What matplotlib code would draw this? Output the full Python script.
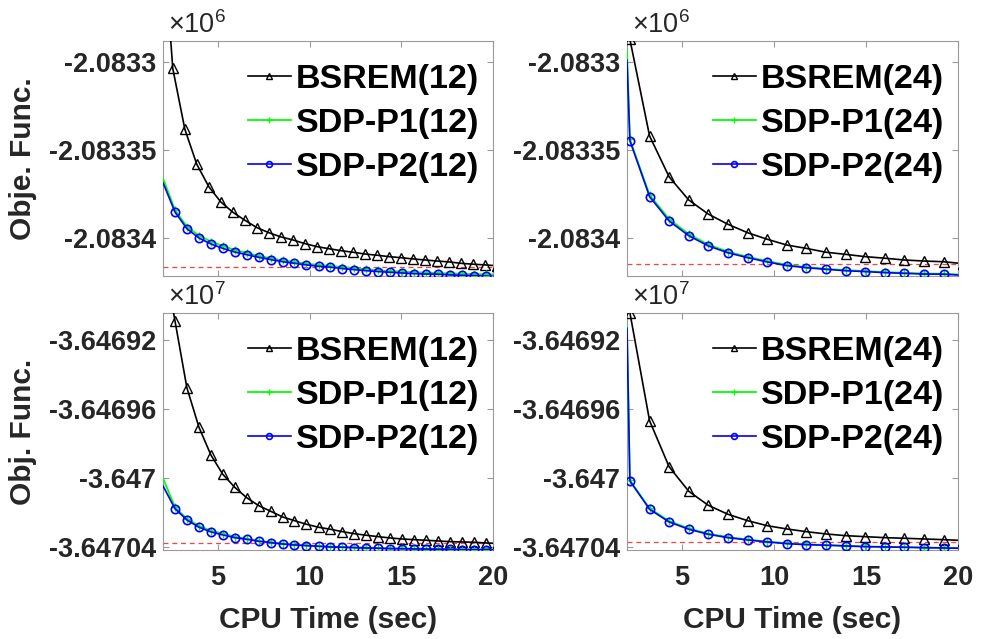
import matplotlib
matplotlib.use('Agg')
import matplotlib.pyplot as plt
from matplotlib.ticker import FixedLocator, FuncFormatter

plt.rcParams['font.family'] = ['Liberation Sans', 'DejaVu Sans']
plt.rcParams['font.weight'] = 'bold'

# ---- данные (значения целевой функции по времени CPU) ----
# верхний ряд, 12 подмножеств
t_bsrem_tl = [1.88, 2.53, 3.19, 3.84, 4.50, 5.15, 5.81, 6.46, 7.12, 7.77, 8.43, 9.08, 9.74, 10.39,
              11.05, 11.70, 12.36, 13.01, 13.67, 14.32, 14.98, 15.63, 16.29, 16.94, 17.60, 18.25,
              18.91, 19.56, 20.22]
bsrem_tl = [-2083210, -2083303.6, -2083338.2, -2083358.1, -2083370.9, -2083379.5, -2083385.4,
            -2083389.9, -2083394.1, -2083397.0, -2083399.4, -2083401.1, -2083403.2, -2083404.9,
            -2083406.1, -2083407.2, -2083408.1, -2083409.1, -2083409.8, -2083410.6, -2083411.2,
            -2083411.9, -2083412.5, -2083413.1, -2083413.6, -2083414.4, -2083414.9, -2083415.3,
            -2083415.8]
t_sdp_tl = [2.00, 2.65, 3.30, 3.96, 4.61, 5.26, 5.91, 6.56, 7.22, 7.87, 8.52, 9.17, 9.82, 10.48,
            11.13, 11.78, 12.43, 13.08, 13.74, 14.39, 15.04, 15.69, 16.34, 17.00, 17.65, 18.30,
            18.95, 19.60, 20.26]
p1_tl = [-2083366.1, -2083384.1, -2083393.5, -2083398.6, -2083402.0, -2083404.5, -2083406.8,
         -2083408.5, -2083410.1, -2083411.5, -2083412.7, -2083413.6, -2083414.6, -2083415.3,
         -2083415.9, -2083416.6, -2083417.2, -2083417.8, -2083418.4, -2083418.8, -2083419.1,
         -2083419.5, -2083419.7, -2083419.9, -2083420.2, -2083420.3, -2083420.5, -2083420.6,
         -2083420.8]
p2_tl = [-2083368.6, -2083385.2, -2083394.7, -2083400.0, -2083403.4, -2083405.9, -2083408.0,
         -2083409.5, -2083411.0, -2083412.3, -2083413.5, -2083414.4, -2083415.3, -2083416.1,
         -2083416.6, -2083417.4, -2083418.0, -2083418.6, -2083419.1, -2083419.5, -2083419.9,
         -2083420.3, -2083420.5, -2083420.6, -2083421.0, -2083421.2, -2083421.4, -2083421.6,
         -2083421.8]
ref_tl = -2083416.3

# верхний ряд, 24 подмножества
t_bsrem_tr = [2.16, 3.23, 4.29, 5.36, 6.42, 7.49, 8.56, 9.62, 10.69, 11.75, 12.82, 13.89, 14.95,
              16.02, 17.08, 18.15, 19.22, 20.28]
bsrem_tr = [-2083287.1, -2083342.0, -2083365.2, -2083378.4, -2083386.4, -2083392.2, -2083397.0,
            -2083400.7, -2083404.0, -2083405.9, -2083408.1, -2083409.3, -2083410.6, -2083411.5,
            -2083412.5, -2083413.1, -2083413.5, -2083414.6]
t_sdp_tr = [2.00, 2.16, 3.23, 4.29, 5.36, 6.42, 7.49, 8.56, 9.62, 10.69, 11.75, 12.82, 13.89,
            14.95, 16.02, 17.08, 18.15, 19.22, 20.28]
p1_tr = [-2083293.2, -2083344.0, -2083375.5, -2083389.2, -2083397.8, -2083403.7, -2083407.8,
         -2083410.7, -2083413.1, -2083415.3, -2083416.5, -2083417.5, -2083418.3, -2083418.8,
         -2083419.4, -2083419.8, -2083420.2, -2083420.3, -2083420.9]
p2_tr = [-2083298.9, -2083344.7, -2083376.5, -2083390.3, -2083398.7, -2083404.5, -2083408.4,
         -2083411.2, -2083413.6, -2083415.7, -2083416.9, -2083417.8, -2083418.6, -2083419.1,
         -2083419.7, -2083420.1, -2083420.5, -2083420.6, -2083421.2]
ref_tr = -2083414.9

# нижний ряд, 12 подмножеств
t_bl = [2.00, 2.65, 3.30, 3.96, 4.61, 5.26, 5.91, 6.56, 7.22, 7.87, 8.52, 9.17, 9.82, 10.48,
        11.13, 11.78, 12.43, 13.08, 13.74, 14.39, 15.04, 15.69, 16.34, 17.00, 17.65, 18.30,
        18.95, 19.60, 20.26]
bsrem_bl = [-36468700, -36469088.0, -36469476.8, -36469706.7, -36469867.4, -36469979.5,
            -36470054.9, -36470115.3, -36470161.7, -36470194.2, -36470227.3, -36470248.8,
            -36470269.6, -36470287.0, -36470298.7, -36470312.6, -36470324.2, -36470333.5,
            -36470341.6, -36470349.2, -36470355.0, -36470359.0, -36470362.5, -36470366.6,
            -36470370.6, -36470372.4, -36470374.1, -36470378.2, -36470381.0]
p1_bl = [-36470002.7, -36470171.4, -36470237.0, -36470279.5, -36470306.7, -36470324.0,
         -36470342.0, -36470353.0, -36470365.0, -36470374.0, -36470381.5, -36470387.5,
         -36470392.0, -36470395.5, -36470399.5, -36470401.4, -36470403.7, -36470405.5,
         -36470407.2, -36470409.0, -36470409.5, -36470410.7, -36470411.3, -36470412.4,
         -36470413.0, -36470414.2, -36470414.7, -36470414.8, -36470415.5]
p2_bl = [-36470047.4, -36470179.1, -36470244.7, -36470287.0, -36470314.3, -36470331.7,
         -36470347.4, -36470356.7, -36470368.3, -36470376.4, -36470384.0, -36470389.8,
         -36470393.8, -36470397.3, -36470401.4, -36470403.1, -36470405.5, -36470407.2,
         -36470408.9, -36470411.3, -36470412.0, -36470413.0, -36470413.5, -36470414.7,
         -36470415.0, -36470417.1, -36470417.3, -36470417.5, -36470418.0]
ref_bl = -36470380.0

# нижний ряд, 24 подмножества
t_bsrem_br = t_bsrem_tr
bsrem_br = [-36469041.6, -36469668.4, -36469935.3, -36470078.1, -36470159.4, -36470211.6,
            -36470248.8, -36470277.8, -36470296.9, -36470312.6, -36470325.9, -36470335.8,
            -36470341.6, -36470347.4, -36470350.9, -36470355.0, -36470359.0, -36470364.0]
t_sdp_br = t_sdp_tr
p1_br = [-36469120.0, -36470014.0, -36470177.0, -36470251.0, -36470294.0, -36470324.0,
         -36470344.0, -36470358.0, -36470370.0, -36470380.0, -36470386.0, -36470390.0,
         -36470394.0, -36470398.5, -36470400.5, -36470402.3, -36470404.8, -36470406.5,
         -36470409.0]
p2_br = [-36469132.1, -36470018.3, -36470182.6, -36470256.3, -36470298.7, -36470327.7,
         -36470347.4, -36470360.8, -36470372.4, -36470382.2, -36470388.0, -36470391.5,
         -36470395.6, -36470399.7, -36470401.4, -36470403.1, -36470405.5, -36470407.2,
         -36470409.5]
ref_br = -36470371.0

yticks_top = [-2083400, -2083350, -2083300]
yticks_bot = [-36470400, -36470000, -36469600, -36469200]
xticks = [5, 10, 15, 20]

TICK_COLOR = '#262626'
SPINE_COLOR = '#9a9a9a'


def draw_panel(ax, t_b, y_b, t_s, y_p1, y_p2, ref, n_sub, ylim, yticks, power,
               ylabel=None, show_x=False):
    ax.axhline(ref, color='#ff4040', linestyle=(0, (4, 3)), linewidth=0.9, zorder=1)
    ax.plot(t_b, y_b, color='black', linewidth=1.2, marker='^', markersize=7,
            markerfacecolor='none', markeredgewidth=1.0, label=f'BSREM({n_sub})', zorder=3)
    ax.plot(t_s, y_p1, color='#00ff00', linewidth=1.3, marker='+', markersize=6,
            markevery=slice(1, None), label=f'SDP-P1({n_sub})', zorder=4)
    ax.plot(t_s, y_p2, color='#0000ff', linewidth=1.2, marker='o', markersize=6,
            markerfacecolor='none', markeredgewidth=1.2, markevery=slice(1, None),
            label=f'SDP-P2({n_sub})', zorder=5)

    ax.set_xlim(2, 20)
    ax.set_ylim(*ylim)
    ax.xaxis.set_major_locator(FixedLocator(xticks))
    ax.yaxis.set_major_locator(FixedLocator(yticks))
    scale = 10.0 ** power
    ax.yaxis.set_major_formatter(FuncFormatter(lambda v, _: '%g' % (v / scale)))
    ax.tick_params(direction='in', length=4, width=0.8, color=SPINE_COLOR,
                   labelsize=19.5, labelcolor=TICK_COLOR, top=True, right=True)
    ax.tick_params(axis='x', pad=11)
    ax.tick_params(axis='y', pad=5)
    if not show_x:
        ax.tick_params(axis='x', labelbottom=False)
    for sp in ax.spines.values():
        sp.set_color(SPINE_COLOR)
        sp.set_linewidth(0.8)

    # множитель в стиле MATLAB
    ax.text(0.015, 1.034, r'$\mathregular{\times10^{%d}}$' % power, transform=ax.transAxes,
            ha='left', va='baseline', fontsize=19.5, fontweight='normal', color=TICK_COLOR)

    if ylabel:
        ax.set_ylabel(ylabel, fontsize=21.5, fontweight='bold', color=TICK_COLOR)
        ax.yaxis.set_label_coords(-0.382, 0.5)
    if show_x:
        ax.set_xlabel('CPU Time (sec)', fontsize=21.5, fontweight='bold', color=TICK_COLOR)
        ax.xaxis.set_label_coords(0.5, -0.238)

    leg = ax.legend(loc='upper right', bbox_to_anchor=(1.01, 0.974), frameon=False,
                    fontsize=24.5, handlelength=1.25, handletextpad=0.15,
                    labelspacing=0.38, borderpad=0, markerscale=0.7)
    for txt in leg.get_texts():
        txt.set_color('black')


fig = plt.figure(figsize=(9.81, 6.39), dpi=100)
ax_tl = fig.add_axes([0.1662, 0.5681, 0.3364, 0.3678])
ax_tr = fig.add_axes([0.6391, 0.5681, 0.3374, 0.3678])
ax_bl = fig.add_axes([0.1662, 0.1393, 0.3364, 0.3709])
ax_br = fig.add_axes([0.6391, 0.1393, 0.3374, 0.3709])

ylim_top = (-2083421.6, -2083288.0)
ylim_bot = (-36470419.0, -36469043.0)

draw_panel(ax_tl, t_bsrem_tl, bsrem_tl, t_sdp_tl, p1_tl, p2_tl, ref_tl, 12,
           ylim_top, yticks_top, 6, ylabel='Obje. Func.')
draw_panel(ax_tr, t_bsrem_tr, bsrem_tr, t_sdp_tr, p1_tr, p2_tr, ref_tr, 24,
           ylim_top, yticks_top, 6)
draw_panel(ax_bl, t_bl, bsrem_bl, t_bl, p1_bl, p2_bl, ref_bl, 12,
           ylim_bot, yticks_bot, 7, ylabel='Obj. Func.', show_x=True)
draw_panel(ax_br, t_bsrem_br, bsrem_br, t_sdp_br, p1_br, p2_br, ref_br, 24,
           ylim_bot, yticks_bot, 7, show_x=True)

fig.savefig('out.png', dpi=100)
